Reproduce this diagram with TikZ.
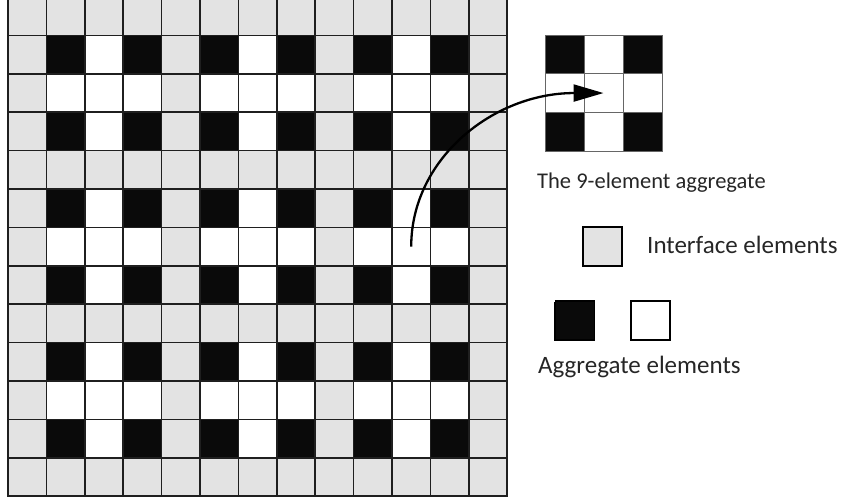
\documentclass[tikz,border=0pt]{standalone}
\usepackage{fontspec}
\setmainfont{Carlito}
\usetikzlibrary{arrows.meta,positioning,shadows}
\definecolor{iGray}{RGB}{227,227,227}
\definecolor{aBlack}{RGB}{10,10,10}

\begin{document}
\begin{tikzpicture}[x=1pt,y=-1pt,
  cell/.style={draw=black!88,line width=1.6pt,minimum size=38.4pt,inner sep=0pt},
  agg/.style={draw=black!60,line width=0.8pt,minimum width=39pt,minimum height=38.7pt,inner sep=0pt},
  key/.style={draw=black,line width=1.4pt,minimum size=39pt,inner sep=0pt},
  ksh/.style={general shadow={fill=black,shadow xshift=-1.3pt,shadow yshift=-1.3pt}},
  lbl/.style={font=\fontsize{25}{30}\selectfont,text=black!85,inner sep=0pt,anchor=base west},
  ar/.style={-{Triangle[length=30pt,width=17pt]},line width=2.3pt}]
\useasboundingbox (0,0) rectangle (850,500);
% 13x13 mesh, interface every 4th row/column
\foreach \r in {0,...,12}
  \foreach \c in {0,...,12}{
    \pgfmathtruncatemacro\i{mod(\r,4)}
    \pgfmathtruncatemacro\j{mod(\c,4)}
    \pgfmathtruncatemacro\k{(\i==0||\j==0)?0:((\i==2||\j==2)?1:2)}
    \ifcase\k\def\cf{iGray}\or\def\cf{white}\or\def\cf{aBlack}\fi
    \node[cell,fill=\cf] (c-\r-\c) at ({27.2+38.4*\c},{16.2+38.4*\r}) {};
  }
% the 9-element aggregate
\foreach \i in {1,2,3}
  \foreach \j in {1,2,3}{
    \pgfmathtruncatemacro\k{(\i==2||\j==2)?1:2}
    \ifcase\k\or\def\cf{white}\or\def\cf{aBlack}\fi
    \node[agg,fill=\cf] (g-\i-\j) at ({545+39*(\j-0.5)},{35+38.7*(\i-0.5)}) {};
  }
\node[lbl,font=\fontsize{22.5}{27}\selectfont] (t-agg) at (537,188) {The 9-element aggregate};
% legend
\node[key,ksh,fill=iGray] (k-ifc) at (602.5,246.5) {};
\node[lbl] (t-ifc) at (647,253) {Interface elements};
\node[key,ksh,fill=aBlack] (k-blk) at (575,320.5) {};
\node[key,fill=white,right=35pt of k-blk] (k-wht) {};
\node[lbl] (t-ae) at (538,373) {Aggregate elements};
\draw[ar] (c-6-10.center) .. controls +(0,-88) and +(-110,0) .. (g-2-2.center);
\end{tikzpicture}
\end{document}
